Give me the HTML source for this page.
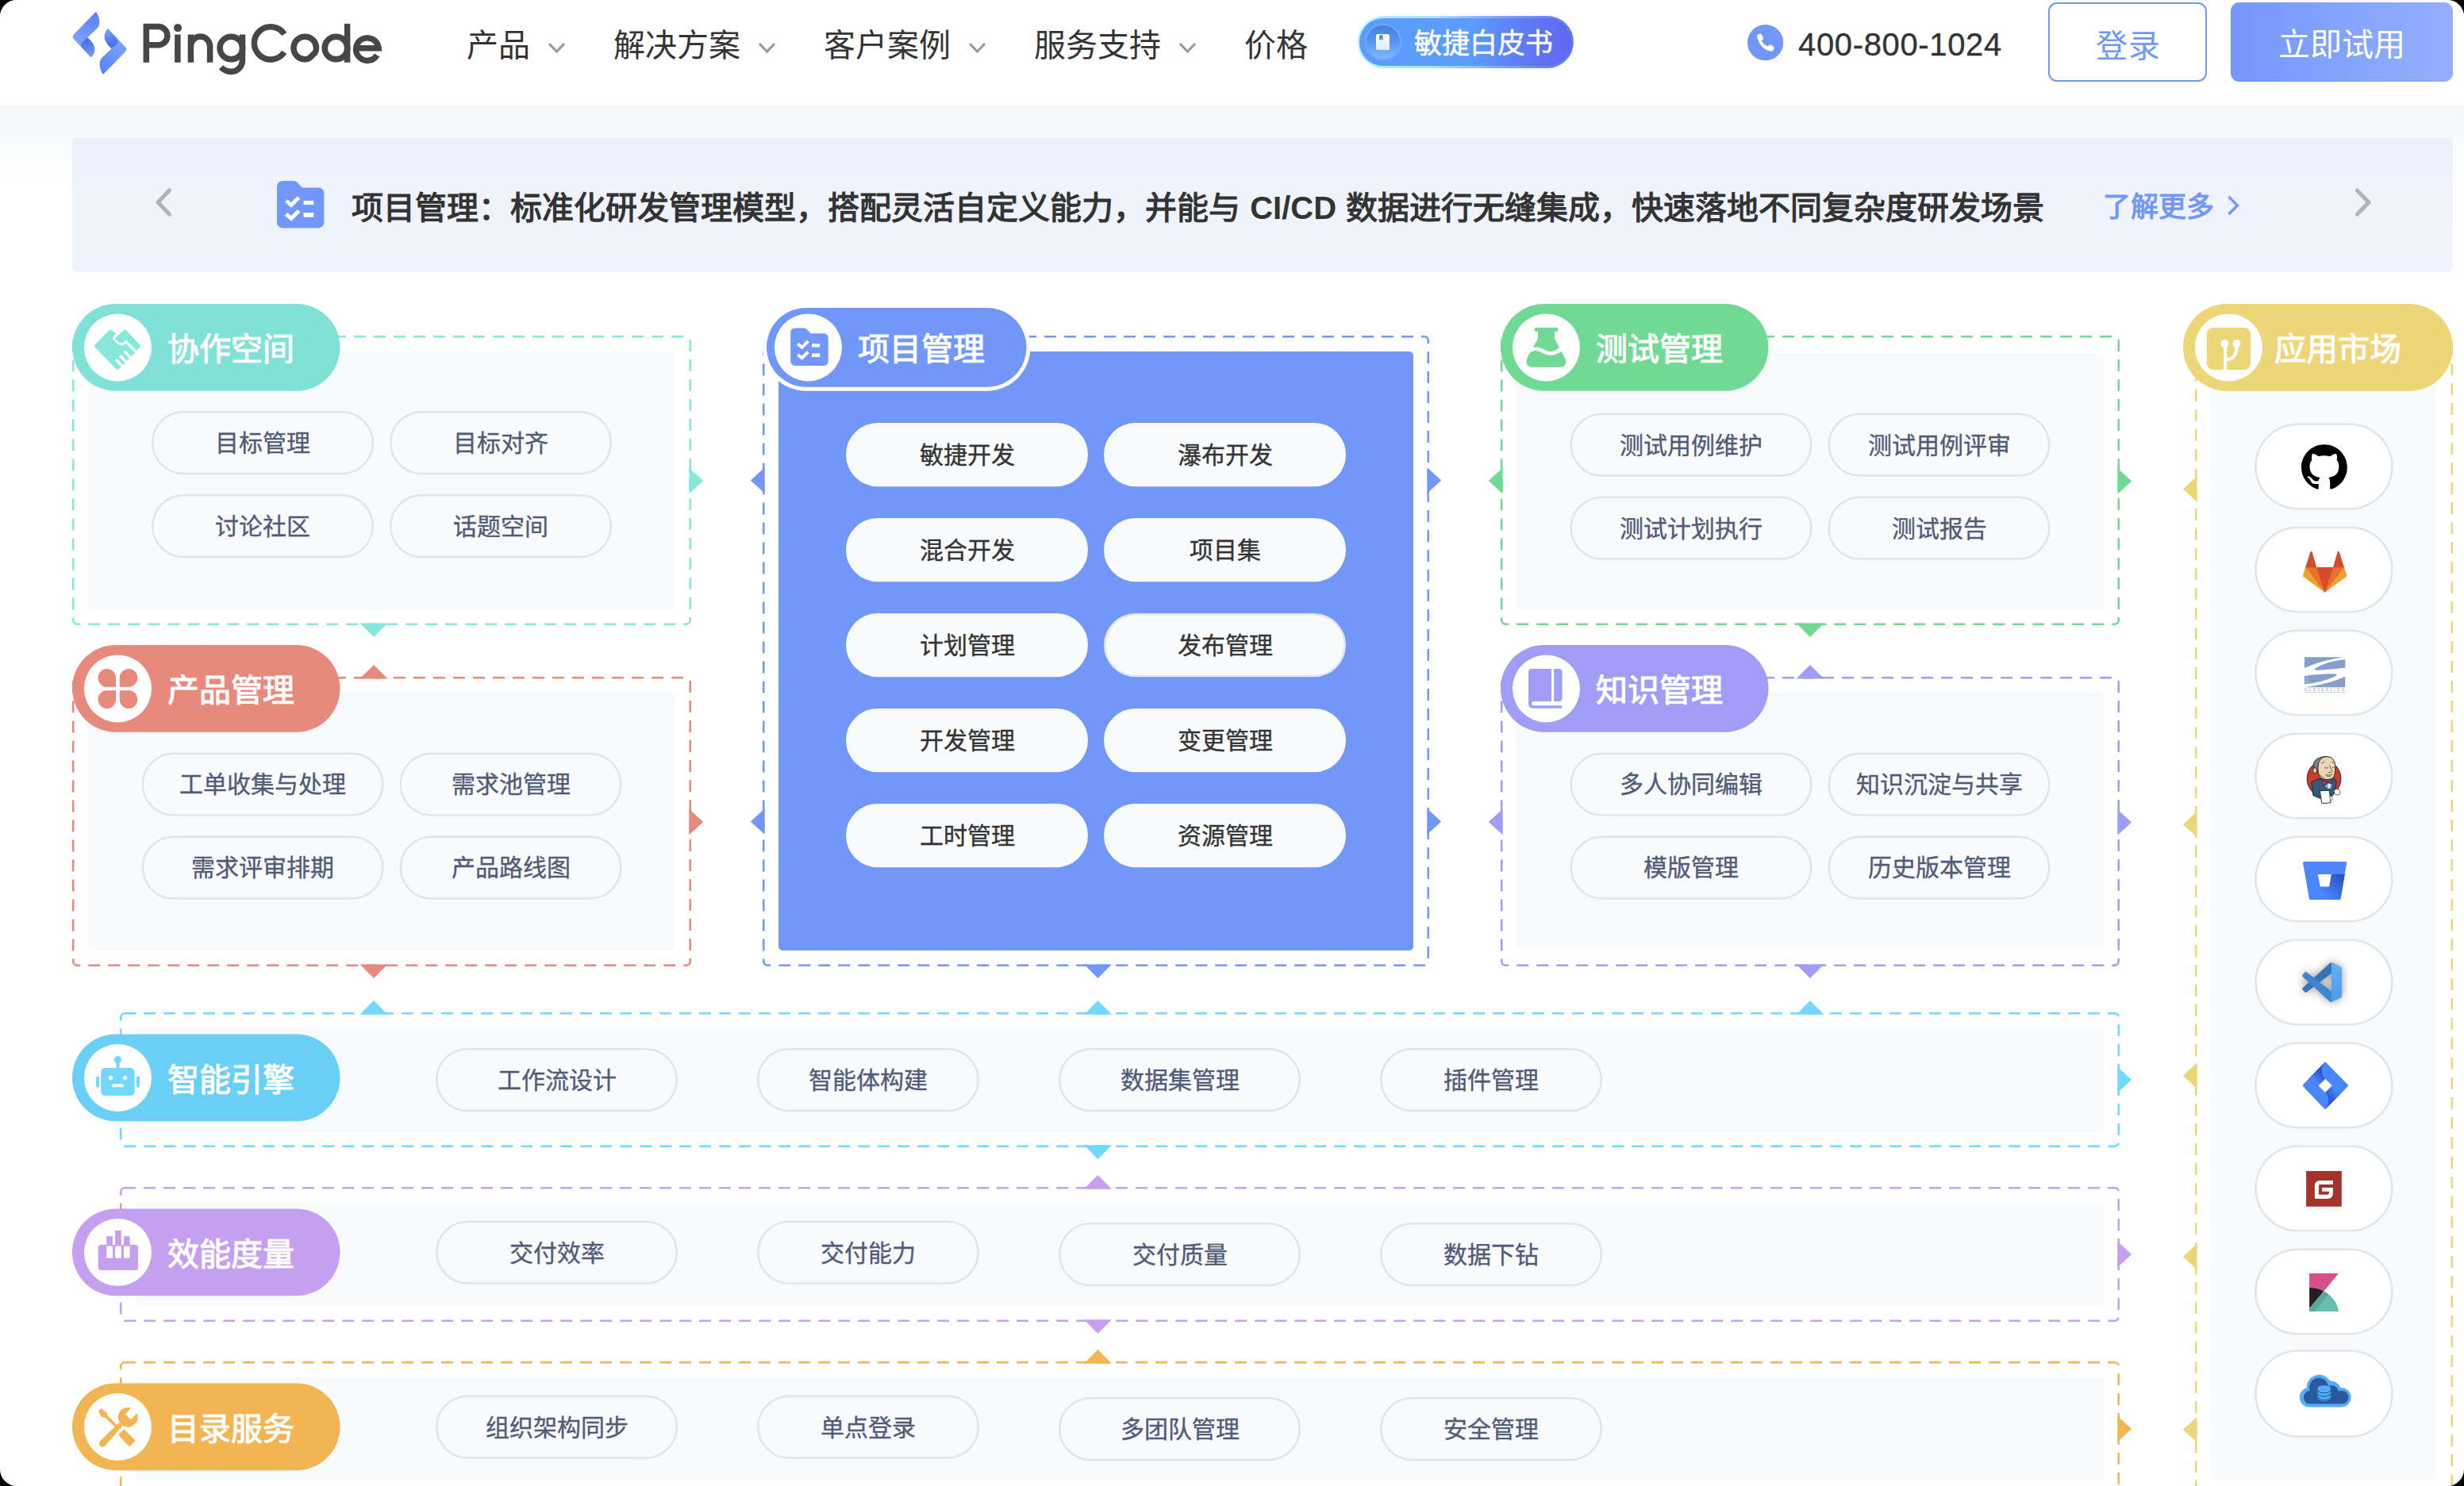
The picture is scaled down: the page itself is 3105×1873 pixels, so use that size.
<!DOCTYPE html>
<html lang="zh-CN"><head><meta charset="utf-8"><title>PingCode</title>
<style>
*{box-sizing:border-box;margin:0;padding:0}
html{background:#000;overflow:hidden}
body{width:3105px;height:1873px;position:relative;overflow:hidden;background:#fff;border-radius:21px;font-family:"Liberation Sans",sans-serif;color:#333}
.abs,.in,.pill,.badge,.app,.circ,.bt{position:absolute}
#bg{position:absolute;left:0;top:133px;width:3105px;height:160px;background:linear-gradient(180deg,#f4f5f9 0,#fafbfc 50px,#fff 110px)}
.in{border-radius:5px}
.pill{height:80px;font-size:30px;line-height:81px;color:#505b78;white-space:nowrap;font-weight:400;-webkit-text-stroke:.35px #505b78}
.pill.c{color:#333;-webkit-text-stroke:.35px #333}
.badge{height:109.7px;border-radius:55px}
.badge .circ{left:15px;top:12.4px;width:85px;height:85px;border-radius:50%;background:#fff}
.badge.act{border:5px solid #fff}
.badge.act .circ{left:10px;top:7.4px}
.badge .circ svg{position:absolute;left:0;top:0}
.bt{height:110px;line-height:114px;font-size:40px;color:#fff;font-weight:400;-webkit-text-stroke:1.1px #fff;white-space:nowrap;width:160px}
.badge.act .bt{top:-5px;margin-left:-5px}
.app{width:174px;height:109px;border:2.5px solid #dce4ee;border-radius:55px;background:#fff}
.app svg{position:absolute;left:-2.5px;top:-2.5px}
svg{display:block}
.j{text-align:justify;text-align-last:justify;text-justify:inter-character;white-space:nowrap}

#hd{position:absolute;left:0;top:0;width:3105px;height:133px;background:#fff}

.nav{position:absolute;top:0;height:114px;line-height:114px;font-size:40px;color:#333;white-space:nowrap}
.chev{position:absolute}
#wp{position:absolute;left:1710.5px;top:20px;width:272px;height:65.5px;border-radius:33px;background:linear-gradient(90deg,#b4efff 0%,#a5e6ff 35%,#7f9df6 70%,#5f78ee 100%)}
#wp i{position:absolute;left:2.5px;top:2.5px;right:2.5px;bottom:2.5px;border-radius:31px;background:linear-gradient(90deg,#5b9dff 0%,#5b9dff 52%,#5f7af5 78%,#6366f2 100%)}
#wp b{position:absolute;left:9.5px;top:10px;width:45.5px;height:45.5px;border-radius:50%;border:2.5px solid #6ea9fd;background:linear-gradient(180deg,#4480e2 0%,#5a95ef 50%,#82b6fd 100%)}
#wp span{position:absolute;left:71.5px;top:1.5px;width:175px;height:65.5px;line-height:65px;font-size:35px;color:#fff;font-weight:400;-webkit-text-stroke:.5px #fff;white-space:nowrap;text-align:center}
#tel{position:absolute;left:2266px;top:0;height:112px;line-height:112px;font-size:40px;color:#333;letter-spacing:.65px;white-space:nowrap;-webkit-text-stroke:.35px #333}
#login{position:absolute;left:2581px;top:3px;width:200px;height:100px;border:2.5px solid #7297fb;border-radius:11px;color:#7297fb;font-size:40px;line-height:107px;padding:0 57.5px;white-space:nowrap}
#try{position:absolute;left:2811px;top:3px;width:280px;height:100px;border-radius:11px;background:linear-gradient(90deg,#7597fb 0%,#84a3fd 50%,#95affe 100%);color:#fff;font-size:40px;line-height:106px;padding:0 60px;white-space:nowrap}
#ban{position:absolute;left:91px;top:173px;width:3000px;height:170px;border-radius:6px;background:linear-gradient(180deg,#ecf0fc 0,#eff3fe 45px,#f0f4fe 100%)}
#bant{position:absolute;left:443px;top:173px;width:2133.2px;height:170px;line-height:178px;font-size:40px;font-weight:700;color:#333;white-space:nowrap;word-spacing:1px}
#more{position:absolute;left:2650px;top:173px;width:140px;height:170px;line-height:175px;font-size:35px;font-weight:700;color:#7297fb;white-space:nowrap}
</style></head>
<body>
<div id="bg"></div>
<div id="hd"></div>
<svg class="abs" style="left:80px;top:0" width="420" height="130" viewBox="0 0 2464 762.7">
<defs>
<linearGradient id="lgA" gradientUnits="userSpaceOnUse" x1="250" y1="95" x2="90" y2="300"><stop offset="0" stop-color="#5683fc"/><stop offset="1" stop-color="#7da0fd"/></linearGradient>
<linearGradient id="lgB" gradientUnits="userSpaceOnUse" x1="175" y1="285" x2="210" y2="420"><stop offset="0" stop-color="#4469e6"/><stop offset="1" stop-color="#7b9cfb"/></linearGradient>
<g id="lgP">
<path d="M240,86 Q276,135 262,188 Q258,200 248,210 L150,305 Q140,318 150,330 L214,400 L205,425 L78,292 Q58,272 78,252 Z" fill="url(#lgA)"/>
<path d="M178,277 Q240,330 230,380 Q224,408 205,426 L140,355 Q122,332 140,312 Z" fill="url(#lgB)"/>
</g>
</defs>
<use href="#lgP"/>
<use href="#lgP" transform="rotate(180 266.5 318.5)"/>
<g fill="none" stroke="#464646" stroke-width="44" stroke-linecap="butt" stroke-linejoin="miter">
<path d="M612,462 V197 H700 A68,68 0 0 1 700,333 H612"/>
<path d="M844,255 V462"/>
<path d="M941,255 V462 M941,345 A71,75 0 0 1 1083,345 V462"/>
<circle cx="1240" cy="355" r="84"/>
<path d="M1323,255 V445 A82,85 0 0 1 1241,530 Q1195,530 1165,497"/>
<path d="M1632,252 A121,121 0 1 0 1632,386"/>
<path d="M1869,355 A84,84 0 1 0 1785,439 Q1805,440 1820,428 L1858,392 Q1869,378 1869,355 Z" stroke-linejoin="round"/>
<circle cx="2015" cy="355" r="84"/>
<path d="M2098,175 V462"/>
<path d="M2172,356 H2330 A84,84 0 1 0 2318,408"/>
</g>
<circle cx="845" cy="206" r="30" fill="#464646"/>
</svg>
<div class="nav j" style="left:588px;width:80px">产品</div><svg class="chev" style="left:689px;top:52px" width="25" height="16" viewBox="-3 -3 25 16"><polyline points="0,0 9.5,10 19,0" fill="none" stroke="#999" stroke-width="3.2"/></svg><div class="nav j" style="left:773px;width:160px">解决方案</div><svg class="chev" style="left:954px;top:52px" width="25" height="16" viewBox="-3 -3 25 16"><polyline points="0,0 9.5,10 19,0" fill="none" stroke="#999" stroke-width="3.2"/></svg><div class="nav j" style="left:1038px;width:160px">客户案例</div><svg class="chev" style="left:1219px;top:52px" width="25" height="16" viewBox="-3 -3 25 16"><polyline points="0,0 9.5,10 19,0" fill="none" stroke="#999" stroke-width="3.2"/></svg><div class="nav j" style="left:1303px;width:160px">服务支持</div><svg class="chev" style="left:1484px;top:52px" width="25" height="16" viewBox="-3 -3 25 16"><polyline points="0,0 9.5,10 19,0" fill="none" stroke="#999" stroke-width="3.2"/></svg><div class="nav j" style="left:1568px;width:80px">价格</div>
<div id="wp"><i></i><b></b><svg class="abs" style="left:23.5px;top:22.9px" width="17" height="20.2" viewBox="0 0 17 20.2"><defs><linearGradient id="wpg" x1="0" y1="0" x2="0" y2="1"><stop offset="0" stop-color="#fff"/><stop offset="1" stop-color="#dfeafe"/></linearGradient></defs><path d="M2.2,0 H14.8 Q17,0 17,2.2 V18 Q17,20.2 14.8,20.2 H2.2 Q0,20.2 0,18 V2.2 Q0,0 2.2,0 Z" fill="url(#wpg)"/><path d="M4.2,1.2 H8.6 V8 L6.4,6.2 L4.2,8 Z" fill="#4c88e8"/></svg><span class="j">敏捷白皮书</span></div>
<svg class="abs" style="left:2201.8px;top:30.9px" width="45.3" height="45.3" viewBox="0 0 45.3 45.3"><circle cx="22.65" cy="22.65" r="22.65" fill="#7297fb"/>
<path d="M12.2,15.5 Q11.3,13.5 13.4,12.4 L15.6,11.6 Q17.2,11.3 18,12.8 L19.9,16.6 Q20.4,18 19.3,19 L17.9,20.1 Q20.3,25.8 25.9,27.3 L27,26 Q28,25 29.4,25.6 L33,27.8 Q34.3,28.8 33.5,30.4 L32.6,32.2 Q31.6,34 29.2,33.6 Q16.5,31.3 12.2,15.5 Z" fill="#fff"/></svg>
<div id="tel">400-800-1024</div>
<div id="login" class="j">登录</div>
<div id="try" class="j">立即试用</div>
<div id="ban"></div>
<svg class="abs" style="left:193px;top:234px" width="27" height="42" viewBox="0 0 27 42"><polyline points="20.5,6 6,21 20.5,36" fill="none" stroke="#b3b3b3" stroke-width="5.2" stroke-linecap="round" stroke-linejoin="round"/></svg>
<svg class="abs" style="left:2964px;top:234px" width="27" height="42" viewBox="0 0 27 42"><polyline points="6.5,6 21,21 6.5,36" fill="none" stroke="#b3b3b3" stroke-width="5.2" stroke-linecap="round" stroke-linejoin="round"/></svg>
<svg class="abs" style="left:349.2px;top:228.2px" width="59.4" height="59.4" viewBox="0 0 47.5 47.5"><path d="M0,5.6 A5.6,5.6 0 0 1 5.6,0 H16.5 Q19,0 20.8,1.8 L25.4,6.8 H41.9 A5.6,5.6 0 0 1 47.5,12.4 V41.9 A5.6,5.6 0 0 1 41.9,47.5 H5.6 A5.6,5.6 0 0 1 0,41.9 Z" fill="#7297fb"/>
<path d="M9.2,20 L14.4,24.4 L22.1,16.7 M9.2,33.5 L14.4,37.9 L22.1,30.2" fill="none" stroke="#fff" stroke-width="3.9"/>
<path d="M26.8,19.9 H37 V24 H26.8 Z M26.8,32 H37 V36.5 H26.8 Z" fill="#fff"/></svg>
<div id="bant" class="j">项目管理：标准化研发管理模型，搭配灵活自定义能力，并能与 CI/CD 数据进行无缝集成，快速落地不同复杂度研发场景</div>
<div id="more" class="j">了解更多</div>
<svg class="abs" style="left:2803px;top:243px" width="22" height="32" viewBox="0 0 22 32"><polyline points="5.5,5 16.5,16 5.5,27" fill="none" stroke="#7297fb" stroke-width="3.4"/></svg>

<svg class="abs" style="left:0;top:0" width="3105" height="1873" viewBox="0 0 3105 1873">
<rect x="92.25" y="424.25" width="777.5" height="362.5" rx="5" fill="none" stroke="#86e8da" stroke-width="2.5" stroke-dasharray="15 10" stroke-dashoffset="1.2"/>
<rect x="111" y="443" width="740" height="325" rx="5" fill="#f9fafc"/>
<rect x="192.25" y="519.25" width="277.5" height="77.7" rx="38.85" fill="#f9fafc" stroke="#dde5ee" stroke-width="2.5"/>
<rect x="492.25" y="519.25" width="277.5" height="77.7" rx="38.85" fill="#f9fafc" stroke="#dde5ee" stroke-width="2.5"/>
<rect x="192.25" y="624.25" width="277.5" height="77.7" rx="38.85" fill="#f9fafc" stroke="#dde5ee" stroke-width="2.5"/>
<rect x="492.25" y="624.25" width="277.5" height="77.7" rx="38.85" fill="#f9fafc" stroke="#dde5ee" stroke-width="2.5"/>
<polygon points="868.4,589.7 886.2,606.0 868.4,622.3" fill="#86e8da"/>
<polygon points="453.5,785.5 471.0,803.1 488.5,785.5" fill="#86e8da"/>
<rect x="91" y="383" width="337.5" height="109.7" rx="54.85" fill="#80e2d6"/>
<g transform="translate(105.9,395.4)"><circle cx="42.55" cy="42.55" r="42.55" fill="#fff"/><path d="M 13.69,39.16 L 31.65,20.97 Q 33.13,19.53 34.69,20.82 L 40.15,25.38 L 37.03,28.50 Q 35.08,30.46 36.95,32.53 L 40.94,36.90 Q 46.59,42.75 53.04,37.68 L 64.16,49.00 L 59.67,53.88 L 51.47,45.68 L 49.13,48.22 L 56.94,56.41 L 54.60,59.54 L 46.40,51.34 L 43.86,54.07 L 51.67,62.07 L 49.52,64.41 L 41.33,56.41 L 38.79,58.95 L 46.79,66.95 L 43.47,69.88 Q 41.91,71.24 40.35,69.68 L 13.69,42.17 Q 12.25,40.60 13.69,39.16 Z" fill="#86e8da"/><path d="M 50.30,20.70 Q 51.67,19.53 52.96,20.82 L 70.52,39.24 Q 71.77,40.60 70.52,41.89 L 66.89,45.95 Q 66.31,46.58 65.68,45.95 L 53.23,33.38 L 49.72,35.92 Q 46.40,38.65 43.47,35.49 L 38.98,31.04 Z" fill="#86e8da"/></g>
<rect x="92.25" y="854.25" width="777.5" height="362.5" rx="5" fill="none" stroke="#e8897e" stroke-width="2.5" stroke-dasharray="15 10" stroke-dashoffset="1.2"/>
<rect x="111" y="873" width="740" height="325" rx="5" fill="#f9fafc"/>
<rect x="179.75" y="949.75" width="302.5" height="77.7" rx="38.85" fill="#f9fafc" stroke="#dde5ee" stroke-width="2.5"/>
<rect x="504.75" y="949.75" width="277.5" height="77.7" rx="38.85" fill="#f9fafc" stroke="#dde5ee" stroke-width="2.5"/>
<rect x="179.75" y="1054.75" width="302.5" height="77.7" rx="38.85" fill="#f9fafc" stroke="#dde5ee" stroke-width="2.5"/>
<rect x="504.75" y="1054.75" width="277.5" height="77.7" rx="38.85" fill="#f9fafc" stroke="#dde5ee" stroke-width="2.5"/>
<polygon points="453.5,855.6 471.0,838.0 488.5,855.6" fill="#e8897e"/>
<polygon points="868.4,1019.7 886.2,1036.0 868.4,1052.3" fill="#e8897e"/>
<polygon points="453.5,1215.5 471.0,1233.1 488.5,1215.5" fill="#e8897e"/>
<rect x="91" y="813" width="337.5" height="109.7" rx="54.85" fill="#e8897e"/>
<g transform="translate(105.9,825.4)"><circle cx="42.55" cy="42.55" r="42.55" fill="#fff"/><path d="M40.2,40.4 H28.9 A11.3,11.45 0 1 1 40.2,28.95 Z" fill="#e8897e"/><path d="M44.9,40.4 V28.95 A11.25,11.45 0 1 1 56.15,40.4 Z" fill="#e8897e"/><path d="M40.2,44.8 V56.2 A11.3,11.4 0 1 1 28.9,44.8 Z" fill="#e8897e"/><path d="M44.9,44.8 H56.15 A11.25,11.4 0 1 1 44.9,56.2 Z" fill="#e8897e"/></g>
<rect x="962.25" y="424.25" width="837.5" height="792.5" rx="5" fill="none" stroke="#7297fb" stroke-width="2.5" stroke-dasharray="15 10" stroke-dashoffset="1.2"/>
<rect x="981" y="443" width="800" height="755" rx="5" fill="#7297fb"/>
<rect x="1067.25" y="534.25" width="302.5" height="77.7" rx="38.85" fill="#f9fafc" stroke="#f9fafc" stroke-width="2.5"/>
<rect x="1392.25" y="534.25" width="302.5" height="77.7" rx="38.85" fill="#f9fafc" stroke="#f9fafc" stroke-width="2.5"/>
<rect x="1067.25" y="654.25" width="302.5" height="77.7" rx="38.85" fill="#f9fafc" stroke="#f9fafc" stroke-width="2.5"/>
<rect x="1392.25" y="654.25" width="302.5" height="77.7" rx="38.85" fill="#f9fafc" stroke="#f9fafc" stroke-width="2.5"/>
<rect x="1067.25" y="774.25" width="302.5" height="77.7" rx="38.85" fill="#f9fafc" stroke="#f9fafc" stroke-width="2.5"/>
<rect x="1392.25" y="774.25" width="302.5" height="77.7" rx="38.85" fill="#f9fafc" stroke="#e1e6ee" stroke-width="2.5"/>
<rect x="1067.25" y="894.25" width="302.5" height="77.7" rx="38.85" fill="#f9fafc" stroke="#f9fafc" stroke-width="2.5"/>
<rect x="1392.25" y="894.25" width="302.5" height="77.7" rx="38.85" fill="#f9fafc" stroke="#f9fafc" stroke-width="2.5"/>
<rect x="1067.25" y="1014.25" width="302.5" height="77.7" rx="38.85" fill="#f9fafc" stroke="#f9fafc" stroke-width="2.5"/>
<rect x="1392.25" y="1014.25" width="302.5" height="77.7" rx="38.85" fill="#f9fafc" stroke="#f9fafc" stroke-width="2.5"/>
<polygon points="963.6,589.2 945.8,605.5 963.6,621.8" fill="#7297fb"/>
<polygon points="1798.4,589.2 1816.2,605.5 1798.4,621.8" fill="#7297fb"/>
<polygon points="963.6,1019.2 945.8,1035.5 963.6,1051.8" fill="#7297fb"/>
<polygon points="1798.4,1019.2 1816.2,1035.5 1798.4,1051.8" fill="#7297fb"/>
<polygon points="1366.0,1215.4 1383.5,1233.0 1401.0,1215.4" fill="#7297fb"/>
<rect x="961" y="383" width="337.5" height="109.7" rx="54.85" fill="#fff"/><rect x="966" y="388" width="327.5" height="99.7" rx="49.85" fill="#7297fb"/>
<g transform="translate(975.9,395.4)"><circle cx="42.55" cy="42.55" r="42.55" fill="#fff"/><g transform="translate(20.3,18)"><path d="M0,5.6 A5.6,5.6 0 0 1 5.6,0 H16.5 Q19,0 20.8,1.8 L25.4,6.8 H41.9 A5.6,5.6 0 0 1 47.5,12.4 V41.9 A5.6,5.6 0 0 1 41.9,47.5 H5.6 A5.6,5.6 0 0 1 0,41.9 Z" fill="#7297fb"/>
<path d="M9.2,20 L14.4,24.4 L22.1,16.7 M9.2,33.5 L14.4,37.9 L22.1,30.2" fill="none" stroke="#fff" stroke-width="3.9"/>
<path d="M26.8,19.9 H37 V24 H26.8 Z M26.8,32 H37 V36.5 H26.8 Z" fill="#fff"/></g></g>
<rect x="1892.25" y="424.25" width="777.5" height="362.5" rx="5" fill="none" stroke="#70da95" stroke-width="2.5" stroke-dasharray="15 10" stroke-dashoffset="1.2"/>
<rect x="1911" y="445.5" width="740" height="322.5" rx="5" fill="#f9fafc"/>
<rect x="1979.75" y="521.75" width="302.5" height="77.7" rx="38.85" fill="#f9fafc" stroke="#dde5ee" stroke-width="2.5"/>
<rect x="2304.75" y="521.75" width="277.5" height="77.7" rx="38.85" fill="#f9fafc" stroke="#dde5ee" stroke-width="2.5"/>
<rect x="1979.75" y="626.75" width="302.5" height="77.7" rx="38.85" fill="#f9fafc" stroke="#dde5ee" stroke-width="2.5"/>
<rect x="2304.75" y="626.75" width="277.5" height="77.7" rx="38.85" fill="#f9fafc" stroke="#dde5ee" stroke-width="2.5"/>
<polygon points="1893.6,589.7 1875.8,606.0 1893.6,622.3" fill="#70da95"/>
<polygon points="2668.4,590.2 2686.2,606.5 2668.4,622.8" fill="#70da95"/>
<polygon points="2263.5,785.5 2281.0,803.1 2298.5,785.5" fill="#70da95"/>
<rect x="1891" y="383" width="337.5" height="109.7" rx="54.85" fill="#70da95"/>
<g transform="translate(1905.9,395.4)"><circle cx="42.55" cy="42.55" r="42.55" fill="#fff"/><path d="M27.9,17.6 H57.1 V22.3 H53 V31.3 L59,42.9 Q54.6,46.2 49.5,47.6 Q45.5,48.2 41.5,46 Q36,42.6 31.8,42.1 Q28.5,41.9 26,42.5 L32.1,31.3 V22.3 H27.9 Z" fill="#70da95"/><path d="M22,49.1 Q25.5,46.6 29.6,46.7 Q33.5,47 37.5,49.4 Q42.5,52.3 47.9,52.6 Q52.5,52.6 57,50.2 Q59.8,48.8 61.7,47.4 L66.8,57.2 Q68,60 67.1,62.6 Q65.8,66.6 61.4,67.4 H23.7 Q19.2,66.8 17.8,62.6 Q17.2,60 18.3,56.5 Z" fill="#70da95"/></g>
<rect x="1892.25" y="854.25" width="777.5" height="362.5" rx="5" fill="none" stroke="#9f9df6" stroke-width="2.5" stroke-dasharray="15 10" stroke-dashoffset="1.2"/>
<rect x="1911" y="873" width="740" height="322.7" rx="5" fill="#f9fafc"/>
<rect x="1979.75" y="949.75" width="302.5" height="77.7" rx="38.85" fill="#f9fafc" stroke="#dde5ee" stroke-width="2.5"/>
<rect x="2304.75" y="949.75" width="277.5" height="77.7" rx="38.85" fill="#f9fafc" stroke="#dde5ee" stroke-width="2.5"/>
<rect x="1979.75" y="1054.75" width="302.5" height="77.7" rx="38.85" fill="#f9fafc" stroke="#dde5ee" stroke-width="2.5"/>
<rect x="2304.75" y="1054.75" width="277.5" height="77.7" rx="38.85" fill="#f9fafc" stroke="#dde5ee" stroke-width="2.5"/>
<polygon points="2263.5,855.6 2281.0,838.0 2298.5,855.6" fill="#9f9df6"/>
<polygon points="1893.6,1019.7 1875.8,1036.0 1893.6,1052.3" fill="#9f9df6"/>
<polygon points="2668.4,1020.2 2686.2,1036.5 2668.4,1052.8" fill="#9f9df6"/>
<polygon points="2263.5,1215.5 2281.0,1233.1 2298.5,1215.5" fill="#9f9df6"/>
<rect x="1891" y="813" width="337.5" height="109.7" rx="54.85" fill="#9f9df6"/>
<g transform="translate(1905.9,825.4)"><circle cx="42.55" cy="42.55" r="42.55" fill="#fff"/><path d="M20.2,21.8 Q20.2,17.6 24.4,17.6 H49.1 V58.5 H26.5 Q24,58.7 24,61.2 Q24,63.7 26.5,63.9 H61 Q62.8,63.9 62.8,65.65 Q62.8,67.4 61,67.4 H26 Q20.2,67.2 20.2,61.4 Z" fill="#9f9df6"/><path d="M52.3,17.6 H58.5 Q62.7,17.6 62.7,21.8 V54.3 Q62.7,58.5 58.5,58.5 H52.3 Z" fill="#9f9df6"/></g>
<rect x="152.25" y="1277.25" width="2517.5" height="167.5" rx="5" fill="none" stroke="#73d8ff" stroke-width="2.5" stroke-dasharray="15 10" stroke-dashoffset="1.2"/>
<rect x="171" y="1296" width="2480" height="130" rx="5" fill="#f9fafc"/>
<rect x="550.25" y="1322.25" width="302.5" height="77.7" rx="38.85" fill="#f9fafc" stroke="#dde5ee" stroke-width="2.5"/>
<rect x="955.25" y="1322.25" width="277.5" height="77.7" rx="38.85" fill="#f9fafc" stroke="#dde5ee" stroke-width="2.5"/>
<rect x="1335.25" y="1322.25" width="302.5" height="77.7" rx="38.85" fill="#f9fafc" stroke="#dde5ee" stroke-width="2.5"/>
<rect x="1740.25" y="1322.25" width="277.5" height="77.7" rx="38.85" fill="#f9fafc" stroke="#dde5ee" stroke-width="2.5"/>
<polygon points="2668.4,1344.7 2686.2,1361.0 2668.4,1377.3" fill="#73d8ff"/>
<rect x="91" y="1303.5" width="337.5" height="109.7" rx="54.85" fill="#6acff5"/>
<g transform="translate(105.9,1315.9)"><circle cx="42.55" cy="42.55" r="42.55" fill="#fff"/><circle cx="42.5" cy="19.8" r="4.6" fill="#73d8ff"/><rect x="40.4" y="21" width="4.3" height="10" fill="#73d8ff"/><rect x="21.3" y="30.2" width="42.4" height="34.9" rx="5.2" fill="#73d8ff"/><rect x="15.1" y="40.5" width="4.1" height="14.5" rx="2.05" fill="#73d8ff"/><rect x="66" y="40.5" width="4.1" height="14.5" rx="2.05" fill="#73d8ff"/><circle cx="33.6" cy="42.5" r="2.65" fill="#fff"/><circle cx="51.5" cy="42.5" r="2.65" fill="#fff"/><rect x="35.1" y="50.3" width="15" height="4.1" rx="2.05" fill="#fff"/></g>
<rect x="152.25" y="1497.25" width="2517.5" height="167.5" rx="5" fill="none" stroke="#c79ff0" stroke-width="2.5" stroke-dasharray="15 10" stroke-dashoffset="1.2"/>
<rect x="171" y="1516" width="2480" height="130" rx="5" fill="#f9fafc"/>
<rect x="550.25" y="1539.75" width="302.5" height="77.7" rx="38.85" fill="#f9fafc" stroke="#dde5ee" stroke-width="2.5"/>
<rect x="955.25" y="1539.75" width="277.5" height="77.7" rx="38.85" fill="#f9fafc" stroke="#dde5ee" stroke-width="2.5"/>
<rect x="1335.25" y="1542.25" width="302.5" height="77.7" rx="38.85" fill="#f9fafc" stroke="#dde5ee" stroke-width="2.5"/>
<rect x="1740.25" y="1542.25" width="277.5" height="77.7" rx="38.85" fill="#f9fafc" stroke="#dde5ee" stroke-width="2.5"/>
<polygon points="2668.4,1564.7 2686.2,1581.0 2668.4,1597.3" fill="#c79ff0"/>
<rect x="91" y="1523.5" width="337.5" height="109.7" rx="54.85" fill="#c79ff0"/>
<g transform="translate(105.9,1535.9)"><circle cx="42.55" cy="42.55" r="42.55" fill="#fff"/><rect x="17.8" y="33.1" width="50.3" height="32" rx="3.6" fill="#c79ff0"/><rect x="28.3" y="22.3" width="7.8" height="13" fill="#c79ff0"/><rect x="39.2" y="15.1" width="7.7" height="20" fill="#c79ff0"/><rect x="50.1" y="22.3" width="7.6" height="13" fill="#c79ff0"/><rect x="28.3" y="34.8" width="7.8" height="15" fill="#fff"/><rect x="39.2" y="34.8" width="7.7" height="15" fill="#fff"/><rect x="50.1" y="34.8" width="7.6" height="15" fill="#fff"/></g>
<rect x="152.25" y="1717.25" width="2517.5" height="167.5" rx="5" fill="none" stroke="#f2b552" stroke-width="2.5" stroke-dasharray="15 10" stroke-dashoffset="1.2"/>
<rect x="171" y="1736" width="2480" height="130" rx="5" fill="#f9fafc"/>
<rect x="550.25" y="1759.75" width="302.5" height="77.7" rx="38.85" fill="#f9fafc" stroke="#dde5ee" stroke-width="2.5"/>
<rect x="955.25" y="1759.75" width="277.5" height="77.7" rx="38.85" fill="#f9fafc" stroke="#dde5ee" stroke-width="2.5"/>
<rect x="1335.25" y="1762.25" width="302.5" height="77.7" rx="38.85" fill="#f9fafc" stroke="#dde5ee" stroke-width="2.5"/>
<rect x="1740.25" y="1762.25" width="277.5" height="77.7" rx="38.85" fill="#f9fafc" stroke="#dde5ee" stroke-width="2.5"/>
<polygon points="2668.4,1784.7 2686.2,1801.0 2668.4,1817.3" fill="#f2b552"/>
<rect x="91" y="1743.5" width="337.5" height="109.7" rx="54.85" fill="#f2b552"/>
<g transform="translate(105.9,1755.9)"><circle cx="42.55" cy="42.55" r="42.55" fill="#fff"/><path d="M44.21,37.15 L48.72,41.32 L26.11,66.62 L20.05,60.70 Z" fill="#f2b552"/><circle cx="23.2" cy="63.6" r="4.25" fill="#f2b552"/><circle cx="55.3" cy="30.4" r="12.4" fill="#f2b552"/><path d="M59.69,18.44 L51.95,26.51 L58.68,33.45 L67.43,24.70 L71.47,21.00 L64.74,14.27 Z" fill="#fff"/><path d="M18.10,23.65 Q17.77,23.15 18.16,22.70 L20.94,19.56 Q21.33,19.11 21.81,19.47 L28.39,24.34 Q28.87,24.70 28.91,25.30 L29.07,27.59 L45.22,44.21 L42.87,46.70 L26.24,30.28 L23.28,30.51 Q22.68,30.55 22.35,30.05 Z" fill="#f2b552" stroke="#fff" stroke-width="0"/><path d="M49.29,46.64 Q50.47,45.56 51.60,46.69 L63.61,58.76 Q64.74,59.89 63.63,61.04 L58.45,66.41 Q57.34,67.56 56.22,66.41 L44.65,54.45 Q43.54,53.30 44.11,52.12 L44.68,50.94 L47.91,47.91 Z" fill="#f2b552"/></g>
<polygon points="453.5,1278.7 471.0,1261.1 488.5,1278.7" fill="#73d8ff"/>
<polygon points="1366.0,1278.7 1383.5,1261.1 1401.0,1278.7" fill="#73d8ff"/>
<polygon points="2263.5,1278.7 2281.0,1261.1 2298.5,1278.7" fill="#73d8ff"/>
<polygon points="1366.0,1443.3 1383.5,1460.9 1401.0,1443.3" fill="#73d8ff"/>
<polygon points="1366.0,1498.7 1383.5,1481.1 1401.0,1498.7" fill="#c79ff0"/>
<polygon points="1366.0,1663.3 1383.5,1680.9 1401.0,1663.3" fill="#c79ff0"/>
<polygon points="1366.0,1718.7 1383.5,1701.1 1401.0,1718.7" fill="#f2b552"/>
<rect x="2767.25" y="424.25" width="322.5" height="1498.8" rx="5" fill="none" stroke="#ecd678" stroke-width="2.5" stroke-dasharray="15 10" stroke-dashoffset="1.2"/>
<rect x="2786" y="443" width="285" height="1422.5" rx="5" fill="#f9fafc"/>
<polygon points="2768.6,600.1 2750.8,616.4 2768.6,632.7" fill="#ecd678"/>
<polygon points="2768.6,1022.7 2750.8,1039.0 2768.6,1055.3" fill="#ecd678"/>
<polygon points="2768.6,1339.4 2750.8,1355.7 2768.6,1372.0" fill="#ecd678"/>
<polygon points="2768.6,1567.7 2750.8,1584.0 2768.6,1600.3" fill="#ecd678"/>
<polygon points="2768.6,1785.7 2750.8,1802.0 2768.6,1818.3" fill="#ecd678"/>
<rect x="2842.45" y="534.75" width="172" height="106.5" rx="53.25" fill="#fff" stroke="#dde5ee" stroke-width="2.5"/>
<g transform="translate(2900,560.2) scale(3.615)"><path fill="#000" d="M8 0C3.58 0 0 3.58 0 8c0 3.54 2.29 6.53 5.47 7.59.4.07.55-.17.55-.38 0-.19-.01-.82-.01-1.49-2.01.37-2.53-.49-2.69-.94-.09-.23-.48-.94-.82-1.13-.28-.15-.68-.52-.01-.53.63-.01 1.08.58 1.23.82.72 1.21 1.87.87 2.33.66.07-.52.28-.87.51-1.07-1.78-.2-3.64-.89-3.64-3.95 0-.87.31-1.59.82-2.15-.08-.2-.36-1.02.08-2.12 0 0 .67-.21 2.2.82.64-.18 1.32-.27 2-.27.68 0 1.36.09 2 .27 1.53-1.04 2.2-.82 2.2-.82.44 1.1.16 1.92.08 2.12.51.56.82 1.27.82 2.15 0 3.07-1.87 3.75-3.65 3.95.29.25.54.73.54 1.48 0 1.07-.01 1.93-.01 2.2 0 .21.15.46.55.38A8.013 8.013 0 0016 8c0-4.42-3.58-8-8-8z"/></g>
<rect x="2842.45" y="664.75" width="172" height="106.5" rx="53.25" fill="#fff" stroke="#dde5ee" stroke-width="2.5"/>
<g transform="translate(2880,670) scale(0.06729)" ><path d="M375,668 L328,815 Q322,835 338,846 L737,1140 L1137,846 Q1153,835 1147,815 L1100,668 Z" fill="#eea330"/><path d="M375,668 H1100 L737,1140 Z" fill="#eb702d"/><path d="M583,668 H892 L737,1140 Z" fill="#d24b2c"/><path d="M375,669 L466,385 Q483,350 500,385 L583,669 Z" fill="#d24b2c"/><path d="M892,669 L975,385 Q992,350 1009,385 L1100,669 Z" fill="#d24b2c"/></g>
<rect x="2842.45" y="794.75" width="172" height="106.5" rx="53.25" fill="#fff" stroke="#dde5ee" stroke-width="2.5"/>
<g transform="translate(2880,800) scale(0.06729)" ><g fill="#879dca"><path d="M355,420 H1085 Q700,470 355,625 Z"/><path d="M1120,465 Q760,500 555,630 Q530,660 600,665 Q850,650 1120,620 Z"/><path d="M355,772 Q700,725 930,735 Q990,745 940,775 Q700,890 355,928 Z"/><path d="M1118,785 V985 H370 Q800,930 1118,785 Z"/><rect x="355" y="1072" width="770" height="9" opacity=".8"/></g><text x="357" y="1052" font-family="Liberation Sans, sans-serif" font-size="66" font-weight="700" letter-spacing="34" fill="#9aa0ac" opacity=".7"><tspan fill="#8aa0cf">SUB</tspan>VERSION</text><rect x="372" y="812" width="55" height="22" fill="#a9b9dc"/><rect x="372" y="862" width="55" height="22" fill="#a9b9dc"/></g>
<rect x="2842.45" y="924.75" width="172" height="106.5" rx="53.25" fill="#fff" stroke="#dde5ee" stroke-width="2.5"/>
<g transform="translate(2880,930) scale(0.06729)" ><g stroke="#231f20" stroke-width="14" stroke-linejoin="round"><ellipse cx="722" cy="765" rx="318" ry="335" fill="#c93b30"/><path d="M485,835 L605,775 L905,760 L955,815 L940,960 L885,1085 L650,1135 L520,1080 Z" fill="#335a78"/><path d="M520,520 Q530,400 660,365 Q720,345 790,350 L700,600 L560,640 Z" fill="#7d7d85"/><ellipse cx="552" cy="610" rx="38" ry="50" fill="#ecd6b5"/><path d="M610,560 Q610,350 780,350 Q930,360 935,540 Q935,720 880,760 Q790,800 690,770 Q600,700 610,560 Z" fill="#ecd6b5"/><path d="M735,905 L790,850 L850,860 L882,880 L850,950 L800,960 Z" fill="#8fc3e0" stroke-width="6"/><path d="M790,850 L850,860 L835,955 L805,950 Z" fill="#fff" stroke-width="5"/><path d="M690,795 L785,835 L700,890 Z" fill="#d63b30" stroke-width="8"/><path d="M800,830 L880,790 L870,850 Z" fill="#d63b30" stroke-width="8"/><path d="M645,992 L820,985 L850,1210 Q770,1235 680,1222 Z" fill="#fff"/><path d="M905,985 Q960,940 1000,960 Q1040,1010 1015,1060 Q960,1090 925,1050 Z" fill="#fff" stroke-width="10"/><path d="M830,1095 L870,1090 L880,1160 L845,1175 Z" fill="#fff" stroke-width="8"/></g><g stroke="#231f20" stroke-width="10" fill="none" stroke-linecap="round"><path d="M735,560 Q765,580 795,560"/><path d="M880,555 Q900,565 915,550"/><path d="M680,480 Q700,455 730,450"/><path d="M870,455 Q895,455 905,470"/><path d="M830,520 Q850,600 880,620 Q860,660 800,650"/><path d="M750,690 Q810,720 880,680"/><path d="M770,715 Q810,735 850,715"/><path d="M660,700 Q690,740 720,760"/></g></g>
<rect x="2842.45" y="1054.75" width="172" height="106.5" rx="53.25" fill="#fff" stroke="#dde5ee" stroke-width="2.5"/>
<g transform="translate(2880,1060) scale(0.06729)" ><defs><linearGradient id="bbg" gradientUnits="userSpaceOnUse" x1="1100" y1="650" x2="720" y2="1010"><stop offset="0.1" stop-color="#2a52c4"/><stop offset="1" stop-color="#4b86fe"/></linearGradient></defs><path d="M350,388 H1125 Q1150,388 1146,412 L1035,1078 Q1031,1098 1010,1098 H468 Q448,1098 444,1078 L329,412 Q326,388 350,388 Z M605,625 L652,860 H822 L863,625 Z" fill="#4b86fe" fill-rule="evenodd"/><path d="M863,625 H1110 L1035,1078 Q1031,1098 1010,1098 H468 Q452,1096 448,1085 L652,860 H822 Z" fill="url(#bbg)"/></g>
<rect x="2842.45" y="1184.75" width="172" height="106.5" rx="53.25" fill="#fff" stroke="#dde5ee" stroke-width="2.5"/>
<g transform="translate(2880,1190) scale(0.06729)" ><defs><linearGradient id="vsg" x1="0" y1="0" x2="0" y2="1"><stop offset="0" stop-color="#63b1f2"/><stop offset="1" stop-color="#4e98ec"/></linearGradient><filter id="vsb" x="-50%" y="-50%" width="200%" height="200%"><feGaussianBlur stdDeviation="85"/></filter></defs><g filter="url(#vsb)" opacity=".4" fill="#000"><path d="M845,345 L862,345 L862,545 L400,900 Q378,915 358,895 L322,855 Q305,835 325,818 Z"/><path d="M322,575 Q305,592 325,612 L830,1078 Q845,1088 862,1085 L862,885 L400,528 Q378,512 358,532 Z"/><path d="M845,345 Q860,340 875,347 L1035,425 Q1056,437 1056,462 V968 Q1056,992 1035,1003 L875,1082 Q860,1090 845,1085 Q862,1075 862,1050 V380 Q862,355 845,345 Z"/></g><path d="M860,545 L640,715 L860,885 Z" fill="#000" opacity=".04"/><path d="M845,345 L862,345 L862,545 L400,900 Q378,915 358,895 L322,855 Q305,835 325,818 Z" fill="#3673b9"/><path d="M322,575 Q305,592 325,612 L830,1078 Q845,1088 862,1085 L862,885 L400,528 Q378,512 358,532 Z" fill="#4086cf"/><path d="M845,345 Q860,340 875,347 L1035,425 Q1056,437 1056,462 V968 Q1056,992 1035,1003 L875,1082 Q860,1090 845,1085 Q862,1075 862,1050 V380 Q862,355 845,345 Z" fill="url(#vsg)"/></g>
<rect x="2842.45" y="1314.75" width="172" height="106.5" rx="53.25" fill="#fff" stroke="#dde5ee" stroke-width="2.5"/>
<g transform="translate(2880,1320) scale(0.06729)" ><defs><linearGradient id="jg1" gradientUnits="userSpaceOnUse" x1="700" y1="440" x2="520" y2="620"><stop offset="0.1" stop-color="#2b55ca"/><stop offset="1" stop-color="#4a86fd"/></linearGradient><linearGradient id="jg2" gradientUnits="userSpaceOnUse" x1="790" y1="995" x2="970" y2="815"><stop offset="0.1" stop-color="#2b55ca"/><stop offset="1" stop-color="#4a86fd"/></linearGradient></defs><path d="M722,292 Q745,268 768,292 L1162,695 Q1185,718 1162,741 L768,1143 Q745,1166 722,1143 L335,741 Q312,718 335,695 Z M745,590 L617,718 L745,848 L875,718 Z" fill="#4a86fd" fill-rule="evenodd"/><path d="M745,272 C660,360 660,500 745,590 L617,718 L430,596 Z" fill="url(#jg1)"/><path d="M745,1163 C830,1075 830,935 745,848 L875,718 L1062,840 Z" fill="url(#jg2)"/></g>
<rect x="2842.45" y="1444.75" width="172" height="106.5" rx="53.25" fill="#fff" stroke="#dde5ee" stroke-width="2.5"/>
<g transform="translate(2880,1450) scale(0.06729)" ><rect x="388" y="386" width="664" height="666" fill="#a5332d"/><path d="M890,565 L650,565 Q548,565 548,665 L548,890 Q548,908 566,908 L780,908 Q890,908 890,800 L890,700 L685,700 L685,770 L805,770 Q820,770 820,785 Q820,830 780,830 L625,830 L625,660 Q625,640 645,640 L890,640 Z" fill="#fff"/></g>
<rect x="2842.45" y="1574.75" width="172" height="106.5" rx="53.25" fill="#fff" stroke="#dde5ee" stroke-width="2.5"/>
<g transform="translate(2880,1580) scale(0.06729)" ><path d="M448,370 H995 L720,705 Q600,640 448,640 Z" fill="#d74e8b"/><path d="M448,640 Q600,640 720,705 L448,1030 Z" fill="#231f20"/><path d="M720,705 Q960,840 995,1085 H448 V1030 Z" fill="#66bdb0"/><path d="M720,705 Q765,730 805,762 L545,1085 H448 V1030 Z" fill="#5ba89b"/></g>
<rect x="2842.45" y="1702.45" width="172" height="108.3" rx="53.25" fill="#fff" stroke="#dde5ee" stroke-width="2.5"/>
<g transform="translate(2880,1710) scale(0.06729)" ><path d="M440,945 A185,185 0 0 1 398,582 A235,235 0 0 1 835,455 A190,190 0 0 1 1030,582 A182,182 0 0 1 1060,945 Z" fill="#52acf9"/><path d="M440,885 A125,125 0 0 1 440,640 Q452,640 462,642 A175,175 0 0 1 790,510 Q800,530 806,550 A130,130 0 0 1 990,640 Q1020,640 1060,640 A122,122 0 0 1 1060,885 Z" fill="#28599d"/><path d="M600,595 V775 A125,55 0 0 0 850,775 V595 Z" fill="#52acf9"/><ellipse cx="725" cy="595" rx="125" ry="58" fill="#52acf9"/><g fill="none" stroke="#28599d" stroke-width="16"><path d="M600,625 A125,55 0 0 0 850,625"/><path d="M600,690 A125,55 0 0 0 850,690"/><path d="M600,755 A125,55 0 0 0 850,755"/></g></g>
<rect x="2751" y="383" width="340" height="109.7" rx="54.85" fill="#ecd678"/>
<g transform="translate(2765.9,395.4)"><circle cx="42.55" cy="42.55" r="42.55" fill="#fff"/><rect x="15.1" y="17.6" width="55" height="52.9" rx="7.6" fill="#ecd678"/><circle cx="37.5" cy="37.7" r="5" fill="#fff"/><circle cx="52.6" cy="37.7" r="5" fill="#fff"/><path d="M38.15,41 V70.5" stroke="#fff" stroke-width="4.1" fill="none"/><path d="M52.6,41 C52.6,54 46.5,57.6 39.5,57.6" stroke="#fff" stroke-width="4.1" fill="none"/></g>
</svg>
<div class="pill j " style="left:271.0px;top:518px;width:120px">目标管理</div>
<div class="pill j " style="left:571.0px;top:518px;width:120px">目标对齐</div>
<div class="pill j " style="left:271.0px;top:623px;width:120px">讨论社区</div>
<div class="pill j " style="left:571.0px;top:623px;width:120px">话题空间</div>
<div class="bt j" style="left:210.5px;top:383px">协作空间</div>
<div class="pill j " style="left:226.0px;top:948.0px;width:210px">工单收集与处理</div>
<div class="pill j " style="left:568.5px;top:948.0px;width:150px">需求池管理</div>
<div class="pill j " style="left:241.0px;top:1053.0px;width:180px">需求评审排期</div>
<div class="pill j " style="left:568.5px;top:1053.0px;width:150px">产品路线图</div>
<div class="bt j" style="left:210.5px;top:813px">产品管理</div>
<div class="pill j c" style="left:1158.5px;top:533px;width:120px">敏捷开发</div>
<div class="pill j c" style="left:1483.5px;top:533px;width:120px">瀑布开发</div>
<div class="pill j c" style="left:1158.5px;top:653px;width:120px">混合开发</div>
<div class="pill j c" style="left:1498.5px;top:653px;width:90px">项目集</div>
<div class="pill j c" style="left:1158.5px;top:773px;width:120px">计划管理</div>
<div class="pill j c hov" style="left:1483.5px;top:773px;width:120px">发布管理</div>
<div class="pill j c" style="left:1158.5px;top:893px;width:120px">开发管理</div>
<div class="pill j c" style="left:1483.5px;top:893px;width:120px">变更管理</div>
<div class="pill j c" style="left:1158.5px;top:1013px;width:120px">工时管理</div>
<div class="pill j c" style="left:1483.5px;top:1013px;width:120px">资源管理</div>
<div class="bt j" style="left:1080.5px;top:383px">项目管理</div>
<div class="pill j " style="left:2041.0px;top:520.5px;width:180px">测试用例维护</div>
<div class="pill j " style="left:2353.5px;top:520.5px;width:180px">测试用例评审</div>
<div class="pill j " style="left:2041.0px;top:625.5px;width:180px">测试计划执行</div>
<div class="pill j " style="left:2383.5px;top:625.5px;width:120px">测试报告</div>
<div class="bt j" style="left:2010.5px;top:383px">测试管理</div>
<div class="pill j " style="left:2041.0px;top:948.0px;width:180px">多人协同编辑</div>
<div class="pill j " style="left:2338.5px;top:948.0px;width:210px">知识沉淀与共享</div>
<div class="pill j " style="left:2071.0px;top:1053.0px;width:120px">模版管理</div>
<div class="pill j " style="left:2353.5px;top:1053.0px;width:180px">历史版本管理</div>
<div class="bt j" style="left:2010.5px;top:813px">知识管理</div>
<div class="pill j " style="left:626.5px;top:1321px;width:150px">工作流设计</div>
<div class="pill j " style="left:1019.0px;top:1321px;width:150px">智能体构建</div>
<div class="pill j " style="left:1411.5px;top:1321px;width:150px">数据集管理</div>
<div class="pill j " style="left:1819.0px;top:1321px;width:120px">插件管理</div>
<div class="bt j" style="left:210.5px;top:1303.5px">智能引擎</div>
<div class="pill j " style="left:641.5px;top:1538.5px;width:120px">交付效率</div>
<div class="pill j " style="left:1034.0px;top:1538.5px;width:120px">交付能力</div>
<div class="pill j " style="left:1426.5px;top:1541px;width:120px">交付质量</div>
<div class="pill j " style="left:1819.0px;top:1541px;width:120px">数据下钻</div>
<div class="bt j" style="left:210.5px;top:1523.5px">效能度量</div>
<div class="pill j " style="left:611.5px;top:1758.5px;width:180px">组织架构同步</div>
<div class="pill j " style="left:1034.0px;top:1758.5px;width:120px">单点登录</div>
<div class="pill j " style="left:1411.5px;top:1761px;width:150px">多团队管理</div>
<div class="pill j " style="left:1819.0px;top:1761px;width:120px">安全管理</div>
<div class="bt j" style="left:210.5px;top:1743.5px">目录服务</div>
<div class="bt j" style="left:2866px;top:383px">应用市场</div>
</body></html>
